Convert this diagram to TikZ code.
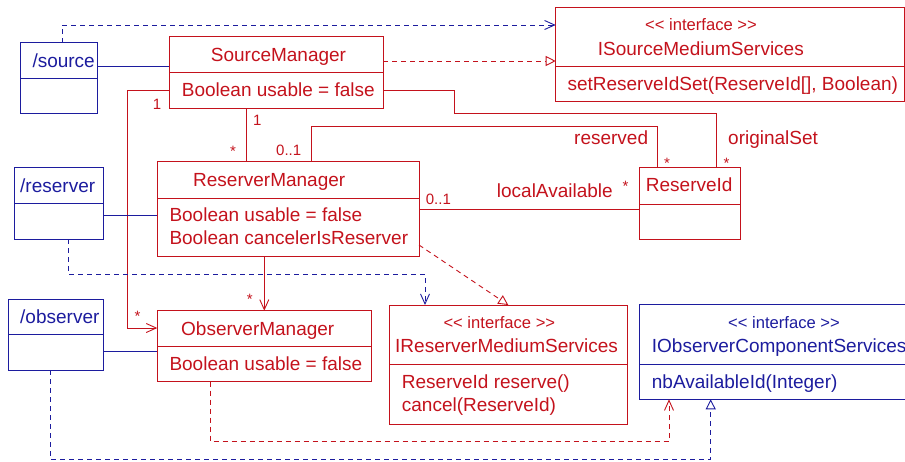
\documentclass[tikz,border=0pt]{standalone}
\usepackage{fontspec}
\setmainfont{Liberation Sans}
\usetikzlibrary{arrows.meta}
\definecolor{umlred}{RGB}{196,18,28}
\definecolor{umlblue}{RGB}{28,28,158}

\begin{document}
\begin{tikzpicture}[x=1pt,y=-1pt,
  box/.style={draw, line width=0.9pt, inner sep=0, outer sep=0, anchor=north west},
  rbox/.style={box, draw=umlred},
  bbox/.style={box, draw=umlblue},
  txt/.style={anchor=base west, inner sep=0, font=\fontsize{19}{22}\selectfont},
  stereo/.style={anchor=base west, inner sep=0, font=\fontsize{16.6}{20}\selectfont},
  mult/.style={anchor=base west, inner sep=0, font=\fontsize{15}{18}\selectfont},
  rtxt/.style={txt, text=umlred},
  btxt/.style={txt, text=umlblue},
  link/.style={line width=0.9pt},
  dep/.style={line width=0.9pt, dash pattern=on 5pt off 4pt},
  nav/.style={-{Straight Barb[length=10pt,width=9pt]}},
  real/.style={-{Triangle[length=10pt,width=10pt,fill=white]}},
]
\useasboundingbox (0,0) rectangle (905,461);
\clip (0,0) rectangle (905,461);

% ---- class boxes ----
\node[bbox, minimum width=77pt,    minimum height=71pt]   (src) at (20.7,42.7) {};
\node[rbox, minimum width=214pt,   minimum height=71.6pt] (sm)  at (169.3,36.7) {};
\node[rbox, minimum width=348.6pt, minimum height=94.4pt] (ism) at (555.7,7.3) {};
\node[bbox, minimum width=89.4pt,  minimum height=71.3pt] (res) at (14.3,167.7) {};
\node[rbox, minimum width=261.7pt, minimum height=95pt]   (rm)  at (157.3,161.7) {};
\node[rbox, minimum width=101pt,   minimum height=71.3pt] (ri)  at (639.3,167.7) {};
\node[bbox, minimum width=95.4pt,  minimum height=71pt]   (obs) at (8.3,299) {};
\node[rbox, minimum width=213.7pt, minimum height=71pt]   (om)  at (157.3,310.7) {};
\node[rbox, minimum width=238pt,   minimum height=119pt]  (irm) at (389.3,305) {};
\node[bbox, minimum width=280pt,   minimum height=95pt]   (ioc) at (639.3,304.3) {};

% compartment dividers
\draw[link, umlblue] (src.west |- 0,78.7)  -- (src.east |- 0,78.7);
\draw[link, umlred]  (sm.west  |- 0,72.3)  -- (sm.east  |- 0,72.3);
\draw[link, umlred]  (ism.west |- 0,66.7)  -- (ism.east |- 0,66.7);
\draw[link, umlblue] (res.west |- 0,203.7) -- (res.east |- 0,203.7);
\draw[link, umlred]  (rm.west  |- 0,198.3) -- (rm.east  |- 0,198.3);
\draw[link, umlred]  (ri.west  |- 0,204)   -- (ri.east  |- 0,204);
\draw[link, umlblue] (obs.west |- 0,334.3) -- (obs.east |- 0,334.3);
\draw[link, umlred]  (om.west  |- 0,346)   -- (om.east  |- 0,346);
\draw[link, umlred]  (irm.west |- 0,364.3) -- (irm.east |- 0,364.3);
\draw[link, umlblue] (ioc.west |- 0,364.3) -- (ioc.east |- 0,364.3);

% ---- box texts ----
\node[btxt] (tsrc) at (32.3,67) {/source};
\node[rtxt] (tsm)  at (210.7,61.7) {SourceManager};
\node[rtxt] (asm)  at (181.7,96.7) {Boolean usable = false};
\node[stereo, text=umlred] (sism) at (645,30) {<{}< interface >{}>};
\node[rtxt] (tism) at (597.7,55) {ISourceMediumServices};
\node[rtxt] (mism) at (567.3,90.5) {setReserveIdSet(ReserveId[], Boolean)};
\node[btxt] (tres) at (20,192) {/reserver};
\node[rtxt] (trm)  at (193,186) {ReserverManager};
\node[rtxt] (arm1) at (169.3,221.7) {Boolean usable = false};
\node[rtxt] (arm2) at (169.3,244.3) {Boolean cancelerIsReserver};
\node[rtxt] (tri)  at (645.7,191.7) {ReserveId};
\node[btxt] (tobs) at (20,323.3) {/observer};
\node[rtxt] (tom)  at (181,335) {ObserverManager};
\node[rtxt] (aom)  at (169.3,370) {Boolean usable = false};
\node[stereo, text=umlred] (sirm) at (443.3,328.3) {<{}< interface >{}>};
\node[rtxt] (tirm) at (395,352.7) {IReserverMediumServices};
\node[rtxt] (mirm1) at (401.7,388.3) {ReserveId reserve()};
\node[rtxt] (mirm2) at (401.7,411) {cancel(ReserveId)};
\node[stereo, text=umlblue] (sioc) at (728,328.3) {<{}< interface >{}>};
\node[btxt] (tioc) at (651.7,352.7) {IObserverComponentServices};
\node[btxt] (mioc) at (651.7,388.3) {nbAvailableId(Integer)};

% ---- connectors ----
\draw[dep, umlblue, nav] (62,0 |- src.north) -- (62,25) -- (ism.west |- 0,25);
\draw[link, umlblue] (src.east |- 0,66.7) -- (sm.west |- 0,66.7);
\draw[dep, umlred, real] (sm.east |- 0,61) -- (ism.west |- 0,61);
\draw[link, umlred, nav] (sm.west |- 0,90) -- (127.7,90) |- (om.west |- 0,328);
\draw[link, umlred] (sm.east |- 0,90) -- (454.3,90) -- (454.3,113.3) -| (716.7,0 |- ri.north);
\draw[link, umlred] (246.7,0 |- sm.south) -- (246.7,0 |- rm.north);
\draw[link, umlred] (311.7,0 |- rm.north) -- (311.7,126) -| (657.3,0 |- ri.north);
\draw[link, umlblue] (res.east |- 0,215.7) -- (rm.west |- 0,215.7);
\draw[dep, umlblue, nav] (68.3,0 |- res.south) -- (68.3,274.3) -| (425,0 |- irm.north);
\draw[link, umlred] (rm.east |- 0,209) -- (ri.west |- 0,209);
\draw[link, umlred, nav] (264.3,0 |- rm.south) -- (264.3,0 |- om.north);
\draw[dep, umlred, real] (rm.east |- 0,245) -- (508.3,0 |- irm.north);
\draw[link, umlblue] (obs.east |- 0,351.7) -- (om.west |- 0,351.7);
\draw[dep, umlred, nav] (210.7,0 |- om.south) -- (210.7,441.7) -| (669,0 |- ioc.south);
\draw[dep, umlblue, real] (50,0 |- obs.south) -- (50,459) -| (710.7,0 |- ioc.south);

% ---- association labels ----
\node[mult, text=umlred] (m1)  at (253,125.7) {1};
\node[mult, text=umlred] (m2)  at (230,156) {*};
\node[mult, text=umlred] (m3)  at (276,155.7) {0..1};
\node[mult, text=umlred] (m4)  at (152.7,109) {1};
\node[mult, text=umlred] (m5)  at (134.3,321.7) {*};
\node[mult, text=umlred] (m6)  at (246.7,304) {*};
\node[mult, text=umlred] (m7)  at (425.7,204.3) {0..1};
\node[mult, text=umlred] (m8)  at (622.3,191.7) {*};
\node[mult, text=umlred] (m9)  at (664,168.4) {*};
\node[mult, text=umlred] (m10) at (723.3,168.4) {*};
\node[rtxt] (lla) at (496.7,197.3) {localAvailable};
\node[rtxt] (lre) at (574,144) {reserved};
\node[rtxt] (los) at (728,144) {originalSet};
\end{tikzpicture}
\end{document}
